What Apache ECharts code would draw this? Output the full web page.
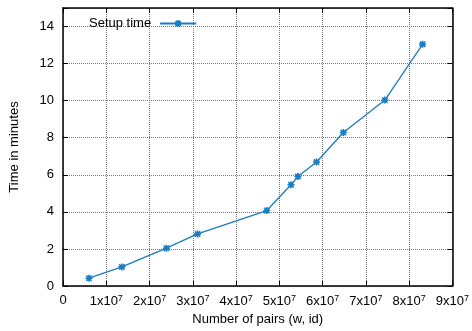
<!DOCTYPE html>
<html><head><meta charset="utf-8">
<script src="https://cdn.jsdelivr.net/npm/echarts@6/dist/echarts.min.js"></script>
<style>html,body{margin:0;padding:0;background:#fff}#c{width:472px;height:331px}</style>
</head><body><div id="c"></div>
<script>
const pairs = [6.0e6, 1.36e7, 2.39e7, 3.11e7, 4.71e7, 5.27e7, 5.43e7, 5.86e7, 6.48e7, 7.44e7, 8.31e7];
const setupTime = [0.42, 1.03, 2.04, 2.81, 4.07, 5.46, 5.91, 6.69, 8.28, 10.03, 13.04];
const yTicks = [0, 2, 4, 6, 8, 10, 12, 14];
const seriesName = 'Setup time';
const xName = 'Number of pairs (w, id)';
const yName = 'Time in minutes';

const color = '#1a7cc1';
const font = 'Liberation Sans, Arial, sans-serif';
const chart = echarts.init(document.getElementById('c'));
const star = 'path://M0,0L10,10M10,0L0,10M5,-1.5L5,11.5M-1.5,5L11.5,5';
const axisLine = {show: true, onZero: false, lineStyle: {color: '#000', width: 1.5}};
const tick = {show: true, inside: true, length: 5, lineStyle: {color: '#000', width: 1}};
const split = {show: true, lineStyle: {color: '#777', type: 'dotted', width: 1}};
chart.setOption({
  animation: false,
  textStyle: {fontFamily: font},
  grid: {left: 63, right: 17, top: 8, bottom: 45},
  legend: {
    show: true, left: 84, top: 12, align: 'right', itemWidth: 36, itemHeight: 8,
    itemGap: 4, textStyle: {fontFamily: font, fontSize: 13, color: '#000', padding: [0, 4, 0, 0]},
    data: [seriesName]
  },
  xAxis: [{
    type: 'value', min: 0, max: 9e7, interval: 1e7,
    name: xName, nameLocation: 'middle', nameGap: 27,
    nameTextStyle: {fontFamily: font, fontSize: 13, color: '#000'},
    axisLine: axisLine, axisTick: tick,
    axisLabel: {
      margin: 8, color: '#000', fontFamily: font, fontSize: 13,
      formatter: v => v === 0 ? '0' : '{a|' + Math.round(v / 1e7) + 'x10}{s|7}',
      rich: {a: {fontFamily: font, fontSize: 13, color: '#000'},
             s: {fontFamily: font, fontSize: 9, color: '#000', verticalAlign: 'top', padding: [0, 0, 6, 0]}}
    },
    splitLine: split
  }, {
    type: 'value', min: 0, max: 9e7, interval: 1e7, position: 'top',
    axisLine: axisLine, axisTick: tick, axisLabel: {show: false}, splitLine: {show: false}
  }],
  yAxis: [{
    type: 'value', min: 0, max: 15, interval: 2,
    name: yName, nameLocation: 'middle', nameGap: 42,
    nameTextStyle: {fontFamily: font, fontSize: 13, color: '#000'},
    axisLine: axisLine, axisTick: tick,
    axisLabel: {margin: 9, color: '#000', fontFamily: font, fontSize: 13,
      formatter: v => yTicks.includes(v) ? String(v) : ''},
    splitLine: split
  }, {
    type: 'value', min: 0, max: 15, interval: 2, position: 'right',
    axisLine: axisLine, axisTick: tick, axisLabel: {show: false}, splitLine: {show: false}
  }],
  series: [{
    name: seriesName, type: 'line',
    data: pairs.map((x, i) => [x, setupTime[i]]),
    symbol: star, symbolSize: 7,
    itemStyle: {color: color, borderColor: color, borderWidth: 1.6},
    lineStyle: {color: color, width: 1.3}
  }]
});
</script></body></html>
